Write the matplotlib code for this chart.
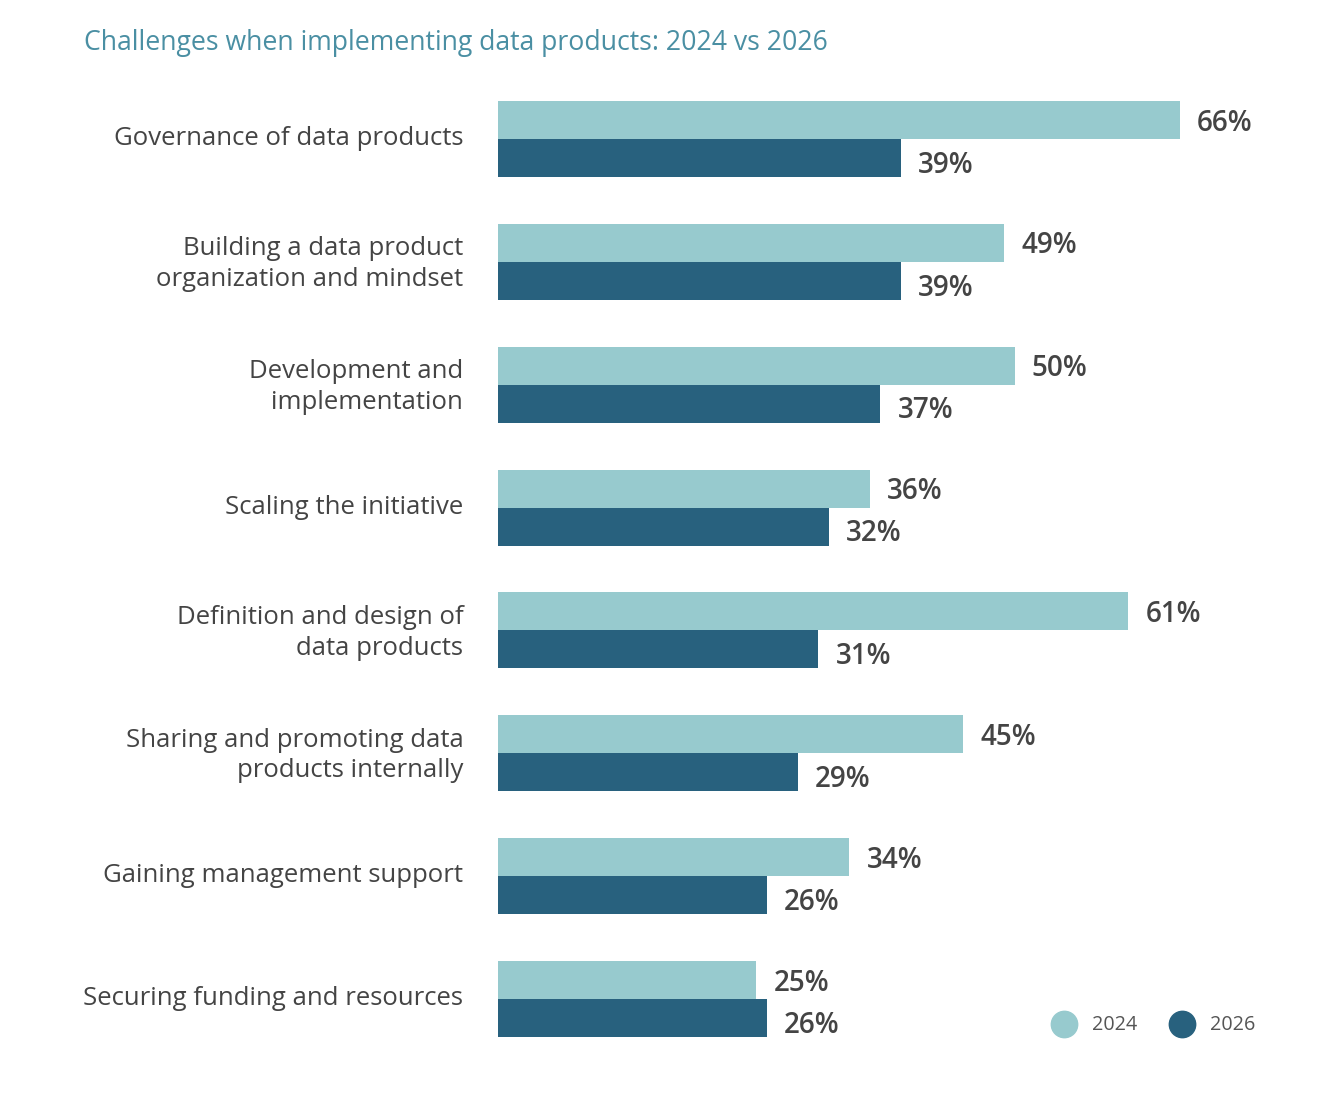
import matplotlib.pyplot as plt
import numpy as np
from matplotlib.lines import Line2D
from matplotlib.transforms import ScaledTranslation

plt.rcParams['font.family'] = ['Open Sans', 'DejaVu Sans']

categories = ['Governance of data products',
              'Building a data product\norganization and mindset',
              'Development and\nimplementation',
              'Scaling the initiative',
              'Definition and design of\ndata products',
              'Sharing and promoting data\nproducts internally',
              'Gaining management support',
              'Securing funding and resources']
vals_2024 = [66, 49, 50, 36, 61, 45, 34, 25]
vals_2026 = [39, 39, 37, 32, 31, 29, 26, 26]
years = ['2024', '2026']

c_light = '#97cace'
c_dark = '#28617e'
c_text = '#444444'

W, H = 1340, 1104
fig = plt.figure(figsize=(W / 100, H / 100), dpi=100)
# axes placed in pixel terms
left, right = 498, 1290
top, bottom = 77.6, 1060.4
ax = fig.add_axes([left / W, 1 - bottom / H, (right - left) / W, (bottom - top) / H])

y = np.arange(len(categories))
h = 0.309
ax.barh(y - h / 2, vals_2024, height=h, color=c_light)
ax.barh(y + h / 2, vals_2026, height=h, color=c_dark)

for yi, v in zip(y, vals_2024):
    ax.annotate(f'{v}%', (v, yi - h / 2), xytext=(12.5, -2.2), textcoords='offset points',
                ha='left', va='center', fontsize=20, fontweight='semibold', color=c_text)
for yi, v in zip(y, vals_2026):
    ax.annotate(f'{v}%', (v, yi + h / 2), xytext=(12.5, -5.2), textcoords='offset points',
                ha='left', va='center', fontsize=20, fontweight='semibold', color=c_text)

ax.set_xlim(0, (right - left) / 10.33)
ax.set_ylim(len(categories) - 0.5, -0.5)
ax.set_yticks(y)
ax.set_yticklabels(categories, fontsize=18.5, color=c_text, linespacing=1.3)
ax.tick_params(axis='y', length=0, pad=25)
shift = ScaledTranslation(0, 0.035, fig.dpi_scale_trans)
for lab in ax.get_yticklabels():
    lab.set_transform(lab.get_transform() + shift)
ax.set_xticks([])
for s in ax.spines.values():
    s.set_visible(False)

fig.text(84 / W, 1 - 43 / H, 'Challenges when implementing data products: 2024 vs 2026',
         fontsize=19.2, color='#4a8fa3', ha='left', va='center')

# legend
for x0, c, lab in [(1064, c_light, years[0]), (1182, c_dark, years[1])]:
    fig.add_artist(Line2D([x0 / W], [1 - 1024 / H], marker='o', markersize=19,
                          color=c, linestyle='none', transform=fig.transFigure))
    fig.text((x0 + 28) / W, 1 - 1025 / H, lab, fontsize=14.2, color='#555555',
             ha='left', va='center')

fig.savefig('out.png', dpi=100, facecolor='white')
